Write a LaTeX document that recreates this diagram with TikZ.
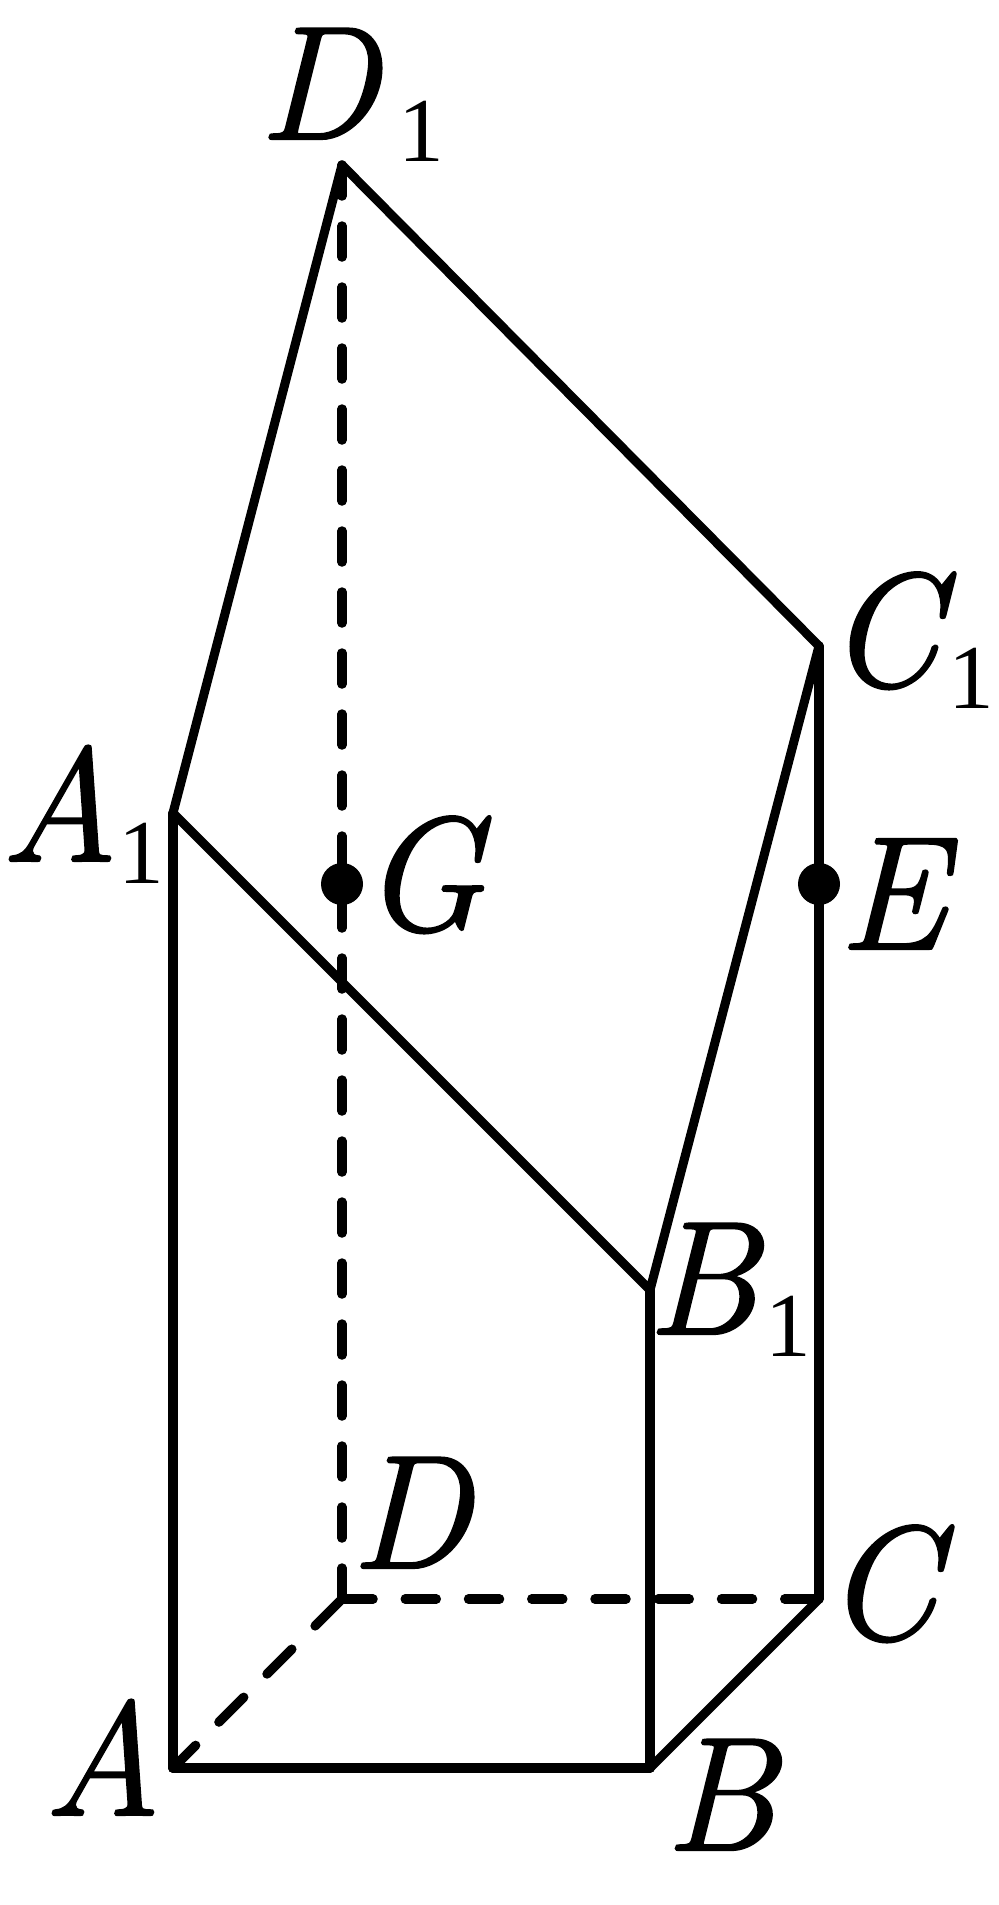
\documentclass[tikz,border=0pt]{standalone}
\usepackage{fontspec}
\setmainfont{Latin Modern Roman}[ItalicFeatures={FakeBold=1.4}]
\newfontfamily\digfont{Liberation Serif}
\usetikzlibrary{positioning}

\tikzset{
  edge/.style={line width=0.095cm, line cap=round, line join=round},
  slant/.style={line width=0.09cm, line cap=round, line join=round},
  hidden/.style={line width=0.095cm, line cap=round},
  lab/.style={anchor=base west, inner sep=0pt, font=\fontsize{46}{50}\selectfont\itshape}
}
\newcommand{\lowone}[1]{\hspace{#1cm}\raisebox{-0.22cm}{\digfont\upshape\fontsize{26}{30}\selectfont 1}}

\begin{document}
\begin{tikzpicture}

\useasboundingbox (0,0) rectangle (9.99,-19.05);

\coordinate (A) at (1.73,-17.68);
\coordinate (B) at (6.50,-17.68);
\coordinate (C) at (8.19,-15.99);
\coordinate (D) at (3.42,-15.99);
\coordinate (A1) at (1.73,-8.13);
\coordinate (B1) at (6.50,-12.90);
\coordinate (C1) at (8.19,-6.46);
\coordinate (D1) at (3.42,-1.65);
\coordinate (E) at (8.19,-8.84);
\coordinate (G) at (3.42,-8.84);

\draw [hidden, dash pattern=on 0.31cm off 0.30cm] (D1) -- (D);
\draw [hidden, dash pattern=on 0.31cm off 0.3225cm] (D) -- (C);
\draw [hidden, dash pattern=on 0.35cm off 0.33cm, dash phase=0.65cm] (D) -- (A);

\draw [edge] (A1) -- (A);
\draw [edge, line width=0.1cm] (A) -- (B);
\draw [edge] (B) -- (B1);
\draw [edge] (C) -- (C1);
\draw [slant] (B) -- (C);
\draw [slant] (A1) -- (B1) -- (C1) -- (D1) -- cycle;

\fill (E) circle (0.21);
\fill (G) circle (0.21);

\node [lab] (labA) at (0.43,-18.15) {A};
\node [lab] (labB) at (6.64,-18.50) {B};
\node [lab] (labC) at (8.24,-16.39) {C};
\node [lab] (labD) at (3.50,-15.68) {D};
\node [lab] (labA1) at (0.00,-8.61) {A\lowone{0.00}};
\node [lab] (labB1) at (6.46,-13.34) {B\lowone{0.08}};
\node [lab] (labC1) at (8.26,-6.86) {C\lowone{0.09}};
\node [lab] (labD1) at (2.58,-1.39) {D\lowone{0.20}};
\node [lab] (labE) at (8.38,-9.49) {E};
\node [lab] (labG) at (3.61,-9.30) {G};

\end{tikzpicture}
\end{document}
